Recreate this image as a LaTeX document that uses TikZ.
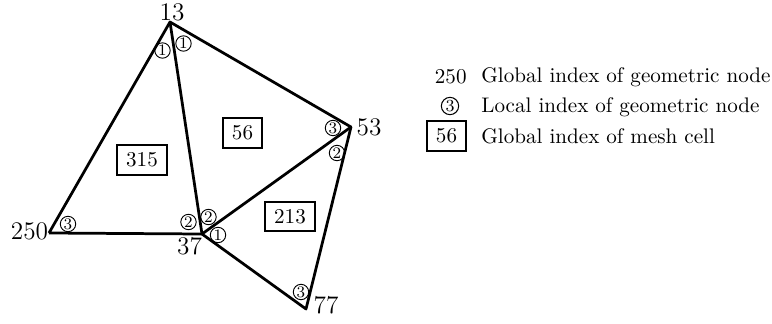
\documentclass[tikz,border=0pt]{standalone}
\begin{document}
\begin{tikzpicture}[x=0.474pt,y=-0.474pt,
  edge/.style={line width=1.3pt, line join=round},
  vlabel/.style={font=\large, inner sep=0pt},
  cellbox/.style={draw, line width=1pt, font=\normalsize, inner sep=0pt, minimum width=23.5pt, minimum height=14pt},
  loc/.style={draw, circle, line width=0.45pt, inner sep=0pt, minimum size=7.3pt, font=\fontsize{7.6}{8}\selectfont},
  legloc/.style={draw, circle, line width=0.5pt, inner sep=0pt, minimum size=8.2pt, font=\footnotesize},
  legtext/.style={anchor=west, inner sep=0pt, font=\normalsize}]
\useasboundingbox (0,0) rectangle (772,323);
% vertices
\coordinate (v13) at (170,22);
\coordinate (v250) at (49,233);
\coordinate (v37) at (202,234);
\coordinate (v53) at (351,127);
\coordinate (v77) at (306,309);
% edges
\draw[edge] (v250) -- (v13) -- (v53) -- (v77) -- (v37) -- (v250);
\draw[edge] (v13) -- (v37) -- (v53);
% vertex labels
\node[vlabel] (l13) at (172,12) {13};
\node[vlabel] (l250) at (29.5,231) {250};
\node[vlabel] (l37) at (189.5,246) {37};
\node[vlabel] (l53) at (369,127) {53};
\node[vlabel] (l77) at (326,305) {77};
% cell labels
\node[cellbox] (c315) at (142,160) {315};
\node[cellbox, minimum width=18.5pt] (c56) at (242.5,133) {56};
\node[cellbox] (c213) at (290,216.5) {213};
% local indices
\node[loc] (a1) at (162.5,50.5) {1};
\node[loc] (b1) at (183.5,43.5) {1};
\node[loc] (a3) at (68,224) {3};
\node[loc] (a2) at (188.5,222) {2};
\node[loc] (b2) at (208.5,217) {2};
\node[loc] (c1) at (218,235) {1};
\node[loc] (b3) at (333,128) {3};
\node[loc] (c2) at (337,153) {2};
\node[loc] (c3) at (301,292) {3};
% legend
\node[anchor=east, inner sep=0pt] (g250) at (467,77) {250};
\node[legtext] (t1) at (481,77) {Global index of geometric node};
\node[legloc] (g3) at (450,106) {3};
\node[legtext] (t2) at (481,107) {Local index of geometric node};
\node[cellbox, minimum width=18.5pt] (g56) at (446.5,136) {56};
\node[legtext] (t3) at (481,136) {Global index of mesh cell};
\end{tikzpicture}
\end{document}
